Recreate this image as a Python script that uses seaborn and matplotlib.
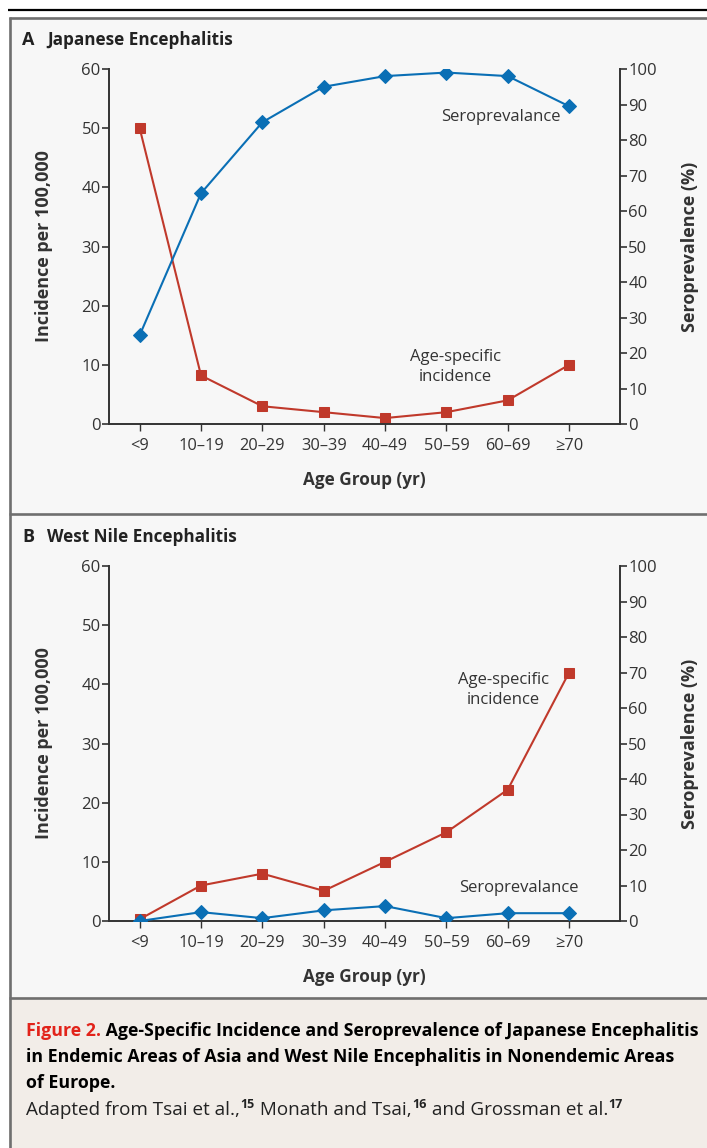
import numpy as np
import pandas as pd
import matplotlib
matplotlib.use("Agg")
import matplotlib.pyplot as plt
import seaborn as sns
from matplotlib.patches import Rectangle

# Data
age_groups = ["<9", "10\u201319", "20\u201329", "30\u201339", "40\u201349", "50\u201359", "60\u201369", "\u226570"]
je_incidence = [50, 8.2, 3, 2, 1, 2, 4, 10]
je_seroprev = [25, 65, 85, 95, 98, 99, 98, 89.5]
wn_incidence = [0.3, 6, 8, 5.1, 10, 15, 22.2, 42]
wn_seroprev = [0, 2.5, 0.8, 3, 4.2, 0.8, 2.2, 2.2]

RED = "#c0392b"
BLUE = "#0a6fb5"
INK = "#333333"
FONT = ["Open Sans", "DejaVu Sans"]

sns.set_theme(style="white")
plt.rcParams["font.family"] = FONT
plt.rcParams["text.color"] = INK
plt.rcParams["axes.labelcolor"] = INK
plt.rcParams["xtick.color"] = INK
plt.rcParams["ytick.color"] = INK

W, H = 707, 1148
fig = plt.figure(figsize=(W / 100, H / 100), dpi=100)

# background layer in pixel coordinates
bg = fig.add_axes([0, 0, 1, 1])
bg.set_xlim(0, W)
bg.set_ylim(H, 0)
bg.axis("off")
bg.add_patch(Rectangle((9, 17), W, 980, facecolor="#f7f7f7", edgecolor="none"))
bg.add_patch(Rectangle((9, 997), W, 160, facecolor="#f2ede8", edgecolor="none"))
bg.plot([8, W], [10, 10], color="black", lw=1.6, solid_capstyle="butt")
border = dict(color="#6f6f6f", lw=1.9, solid_capstyle="butt")
bg.plot([9.5, 9.5], [17, H], **border)
bg.plot([9, W], [17.5, 17.5], **border)
bg.plot([9, W], [513.5, 513.5], **border)
bg.plot([9, W], [997.5, 997.5], **border)

bg.text(22, 40, "A", fontsize=13, fontweight="bold", color="#222222", va="center")
bg.text(47, 40, "Japanese Encephalitis", fontsize=12.3, fontweight="bold", color="#222222", va="center")
bg.text(22, 537, "B", fontsize=13, fontweight="bold", color="#222222", va="center")
bg.text(47, 537, "West Nile Encephalitis", fontsize=12.3, fontweight="bold", color="#222222", va="center")


def panel(top_px, incidence, seroprev, inc_label, sero_label):
    left, right, bottom = 109, 620, top_px + 355
    ax = fig.add_axes([left / W, 1 - bottom / H, (right - left) / W, 355 / H])
    ax.set_facecolor("none")
    x = np.arange(len(age_groups))
    df = pd.DataFrame({"x": x, "inc": incidence, "sero": seroprev})

    sns.lineplot(data=df, x="x", y="inc", ax=ax, color=RED, lw=1.5,
                 marker="s", markersize=7.5, markeredgecolor=RED)
    ax2 = ax.twinx()
    sns.lineplot(data=df, x="x", y="sero", ax=ax2, color=BLUE, lw=1.5,
                 marker="D", markersize=7.5, markeredgecolor=BLUE)

    ax.set_xlim(-0.5, 7.83)
    ax.set_ylim(0, 60)
    ax2.set_ylim(0, 100)
    ax.set_xticks(x)
    ax.set_xticklabels(age_groups, fontsize=11.8)
    ax.set_yticks(range(0, 61, 10))
    ax.tick_params(axis="y", labelsize=12, length=5, width=1.2, pad=1, direction="out", left=True)
    ax.tick_params(axis="x", length=5, width=1.0, pad=5, direction="out", bottom=True)
    ax2.set_yticks(range(0, 101, 10))
    ax2.tick_params(axis="y", labelsize=12, length=5, width=1.2, pad=1, direction="out", right=True)

    for a in (ax, ax2):
        for s in a.spines.values():
            s.set_visible(False)
            s.set_color(INK)
            s.set_linewidth(1.4)
    ax.spines["left"].set_visible(True)
    ax.spines["bottom"].set_visible(True)
    ax2.spines["right"].set_visible(True)

    ax.set_xlabel("Age Group (yr)", fontsize=12.3, fontweight="bold")
    ax.xaxis.set_label_coords(0.5, -0.132)
    ax.set_ylabel("Incidence per 100,000", fontsize=13, fontweight="bold")
    ax.yaxis.set_label_coords(-0.109, 0.5)
    ax2.set_ylabel("Seroprevalence (%)", fontsize=13, fontweight="bold")
    ax2.yaxis.set_label_coords(1.119, 0.5)

    bg.text(*inc_label, "Age-specific\nincidence", fontsize=12, ha="center", va="center",
            linespacing=1.3, color=INK)
    bg.text(*sero_label, "Seroprevalance", fontsize=12, ha="center", va="center", color=INK)


panel(69, je_incidence, je_seroprev, (455, 367), (501, 117))
panel(566, wn_incidence, wn_seroprev, (503, 690), (519, 888))

# caption
CAP = 12.8
t1 = bg.text(26, 1036, "Figure 2.", fontsize=CAP, fontweight="bold", color="#e2231a", va="baseline")
bg.annotate(" Age-Specific Incidence and Seroprevalence of Japanese Encephalitis",
            xy=(1, 0), xycoords=t1, fontsize=CAP, fontweight="bold", color="black",
            va="bottom", ha="left")
bg.text(26, 1062, "in Endemic Areas of Asia and West Nile Encephalitis in Nonendemic Areas",
        fontsize=CAP, fontweight="bold", color="black", va="baseline")
bg.text(26, 1088, "of Europe.", fontsize=CAP, fontweight="bold", color="black", va="baseline")

# source line with raised reference numbers
SRC = 13.6
pieces = [(" Monath and Tsai,", "16"), (" and Grossman et al.", "17")]
prev = bg.text(26, 1115, "Adapted from Tsai et al.,", fontsize=SRC, color="#222222", va="baseline")
prev = bg.annotate("15", xy=(1, 0), xycoords=prev, xytext=(0.5, 6), textcoords="offset points",
                   fontsize=9, fontweight="bold", color="#222222", va="bottom", ha="left")
for txt, ref in pieces:
    prev = bg.annotate(txt, xy=(1, 0), xycoords=prev, xytext=(0, -6), textcoords="offset points",
                       fontsize=SRC, color="#222222", va="bottom", ha="left")
    prev = bg.annotate(ref, xy=(1, 0), xycoords=prev, xytext=(0.5, 6), textcoords="offset points",
                       fontsize=9, fontweight="bold", color="#222222", va="bottom", ha="left")

fig.savefig("out.png", dpi=100)
